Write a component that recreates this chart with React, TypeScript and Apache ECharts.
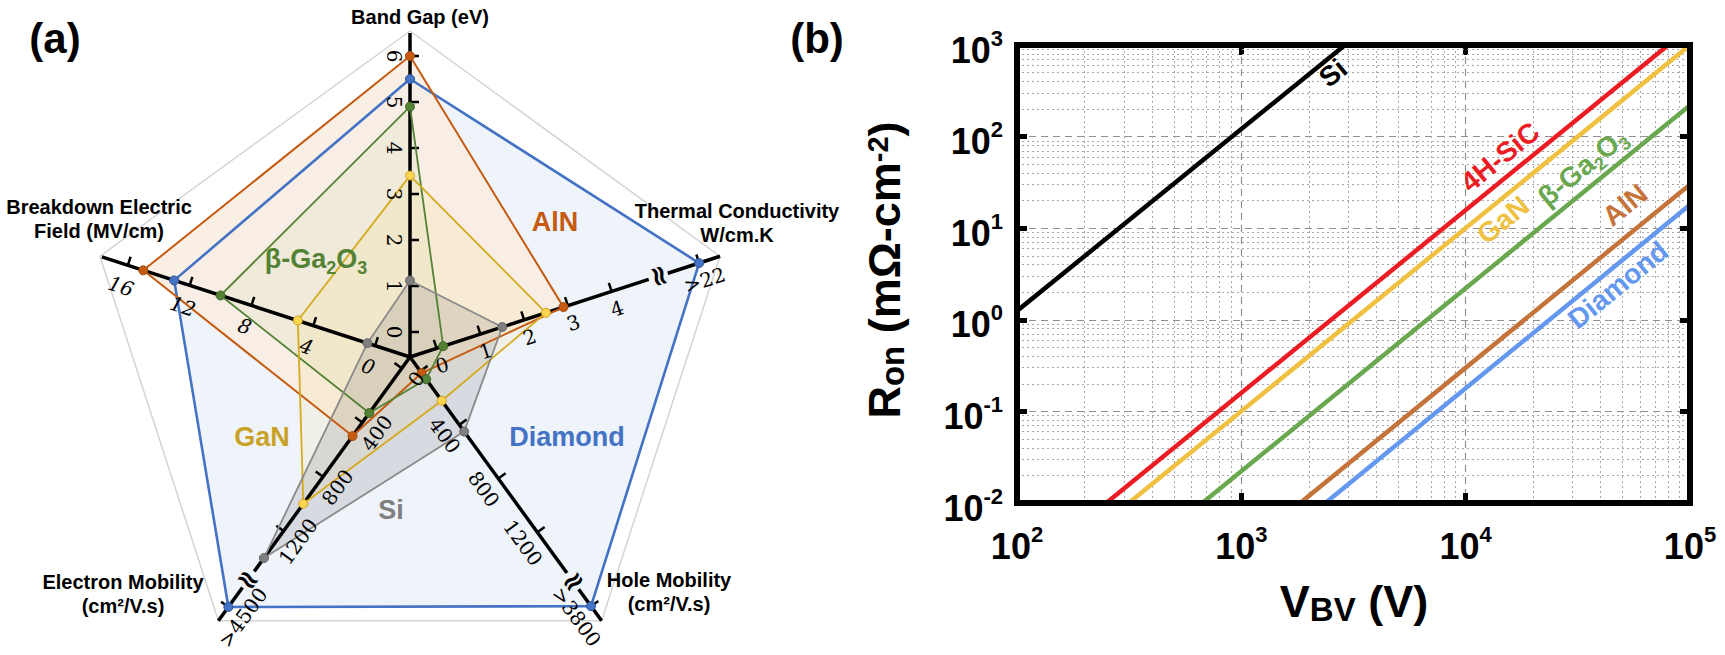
import React, { useEffect, useRef } from "react";
import * as echarts from "echarts";

// ---------------- (a) radar data ----------------
const radarIndicators = [
  "Band Gap (eV)",
  "Breakdown Electric Field (MV/cm)",
  "Electron Mobility (cm²/V.s)",
  "Hole Mobility (cm²/V.s)",
  "Thermal Conductivity W/cm.K",
];
const diamondValues = [5.5, 13, 4500, 3800, 22];
const alnValues = [6.0, 15, 500, 14, 2.9];
const ga2o3Values = [4.9, 10, 330, 60, 0.15];
const ganValues = [3.4, 5.0, 1000, 220, 2.5];
const siValues = [1.12, 0.5, 1400, 450, 1.5];

const bandGapTicks = [0, 1, 2, 3, 4, 5, 6];
const fieldTicks = [0, 4, 8, 12, 16];
const electronTicks = [0, 400, 800, 1200];
const holeTicks = [0, 400, 800, 1200];
const thermalTicks = [0, 1, 2, 3, 4];
const capValues: (number | null)[] = [null, null, 4500, 3800, 22];
const capTickLabels = ["", "", ">4500", ">3800", ">22"];

// ---------------- (b) data ----------------
const vbvRange = [100, 100000];
const ronRange = [0.01, 1000];
const siVbv = [100, 2900];
const siRon = [1.25, 1000];
const sicVbv = [250, 80000];
const sicRon = [0.01, 1000];
const ganVbv = [315, 100000];
const ganRon = [0.01, 1000];
const ga2o3Vbv = [670, 100000];
const ga2o3Ron = [0.01, 220];
const alnVbv = [1830, 100000];
const alnRon = [0.01, 30];
const diamondVbv = [2370, 100000];
const diamondRon = [0.01, 18];
const minorMantissas = [2, 3, 4, 5, 6, 7, 8, 9];
const vbvDecades = [100, 1000, 10000];
const ronDecades = [0.01, 0.1, 1, 10, 100];

// ---------------- layout / style ----------------
const SANS = '"Liberation Sans", Arial, Helvetica, sans-serif';
const SERIF = '"DejaVu Serif", "Liberation Serif", serif';
const DEG = Math.PI / 180;

const CX = 410;
const CY = 357;
const R = 326;
const AX_ANGLES = [90, 162, 234, 306, 18];
const ZERO_PX = [25, 36.7, 14, 17.5, 28];
const PX_PER_UNIT = [46, 16.25, 0.1675, 0.166, 46];
const CAP_PX = [0, 0, 309, 308, 304];
const BREAK_PX = [0, 0, 275, 277, 261];
const TICK_SIDE = [-1, -1, -1, 1, 1];
const LABEL_OFF = [16, 22, 18, 18, 18];

const U = AX_ANGLES.map((a) => [Math.cos(a * DEG), -Math.sin(a * DEG)]);
const N = U.map((u) => [u[1], -u[0]]);
const axMin = ZERO_PX.map((z, i) => -z / PX_PER_UNIT[i]);
const axMax = axMin.map((m, i) => m + R / PX_PER_UNIT[i]);
const toAxis = (i: number, v: number) => {
  const c = capValues[i];
  return c != null && v >= c ? axMin[i] + CAP_PX[i] / PX_PER_UNIT[i] : v;
};
const distOf = (i: number, v: number) =>
  ((toAxis(i, v) - axMin[i]) / (axMax[i] - axMin[i])) * R;

const GL = 1017;
const GT = 45;
const GW = 673;
const GH = 458;

const C_SI = "#000000";
const C_SIC = "#ec1c24";
const C_GAN = "#f0c040";
const C_GA2O3 = "#6aa84f";
const C_ALN = "#c4733a";
const C_DIA = "#6498ee";

function txt(x: number, y: number, text: string, font: string, fill: string, extra: any = {}) {
  return {
    type: "text",
    x,
    y,
    rotation: extra.rotation || 0,
    z: 20,
    silent: true,
    style: {
      text,
      font,
      fill,
      align: extra.align || "center",
      verticalAlign: extra.va || "middle",
      textAlign: extra.align || "center",
      textVerticalAlign: extra.va || "middle",
      lineHeight: extra.lineHeight,
      rich: extra.rich,
    },
  };
}

function radarGraphics() {
  const els: any[] = [];
  const tickLists = [bandGapTicks, fieldTicks, electronTicks, holeTicks, thermalTicks];
  for (let i = 0; i < 5; i++) {
    const u = U[i];
    const n = N[i];
    const side = TICK_SIDE[i];
    const P = (d: number, perp: number) => [CX + d * u[0] + perp * n[0], CY + d * u[1] + perp * n[1]];
    const segs = capValues[i] != null ? [[0, BREAK_PX[i] - 10], [BREAK_PX[i] + 10, R]] : [[0, R - 2]];
    segs.forEach(([a, b]) => {
      const p1 = P(a, 0);
      const p2 = P(b, 0);
      els.push({ type: "line", z: 3, silent: true, shape: { x1: p1[0], y1: p1[1], x2: p2[0], y2: p2[1] }, style: { stroke: "#000", lineWidth: 3.5 } });
    });
    const readRot = Math.atan2(-side * u[1], side * u[0]);
    const axisRot = Math.atan2(-u[1], u[0]);
    const font = i === 1 ? `italic 20px ${SERIF}` : `20px ${SERIF}`;
    const addTick = (d: number, label: string) => {
      const a = P(d, 0);
      const b = P(d, side * 9);
      els.push({ type: "line", z: 3, silent: true, shape: { x1: a[0], y1: a[1], x2: b[0], y2: b[1] }, style: { stroke: "#000", lineWidth: 2.5 } });
      if (label) {
        const lp = P(d, -side * LABEL_OFF[i]);
        els.push(txt(lp[0], lp[1], label, font, "#000", { rotation: readRot }));
      }
    };
    tickLists[i].forEach((v) => addTick(distOf(i, v), i === 3 && v === 0 ? "" : String(v)));
    const cap = capValues[i];
    if (cap != null) {
      addTick(distOf(i, cap), capTickLabels[i]);
      const bp = P(BREAK_PX[i], 0);
      els.push(txt(bp[0], bp[1], "≈", `bold 28px "DejaVu Sans", sans-serif`, "#000", { rotation: axisRot + Math.PI / 2 }));
    }
  }
  // axis names
  const nameFont = `bold 20px ${SANS}`;
  els.push(txt(420, 17, "Band Gap (eV)", nameFont, "#000"));
  els.push(txt(99, 219, "Breakdown Electric\nField (MV/cm)", nameFont, "#000", { lineHeight: 24 }));
  els.push(txt(737, 223, "Thermal Conductivity\nW/cm.K", nameFont, "#000", { lineHeight: 24 }));
  els.push(txt(123, 594, "Electron Mobility\n(cm²/V.s)", nameFont, "#000", { lineHeight: 24 }));
  els.push(txt(669, 592, "Hole Mobility\n(cm²/V.s)", nameFont, "#000", { lineHeight: 24 }));
  // material labels
  const mFont = `bold 27px ${SANS}`;
  els.push(txt(555, 222, "AlN", mFont, "#c55a11"));
  els.push(
    txt(316, 263, "{m|β-Ga}{s|2}{m|O}{s|3}", mFont, "#548235", {
      rich: {
        m: { fontSize: 27, fontWeight: "bold", fontFamily: SANS, lineHeight: 27, padding: [0, 0, 8, 0] },
        s: { fontSize: 18, fontWeight: "bold", fontFamily: SANS, lineHeight: 18, verticalAlign: "bottom" },
      },
    })
  );
  els.push(txt(262, 437, "GaN", mFont, "#c9a227"));
  els.push(txt(391, 510, "Si", mFont, "#7f7f7f"));
  els.push(txt(567, 437, "Diamond", mFont, "#4472c4"));
  els.push(txt(55, 38, "(a)", `bold 42px ${SANS}`, "#000"));
  return els;
}

function panelBGraphics() {
  const els: any[] = [];
  els.push({ type: "rect", z: 15, silent: true, shape: { x: GL, y: GT, width: GW, height: GH }, style: { fill: null, stroke: "#000", lineWidth: 6 } });
  els.push(txt(817, 38, "(b)", `bold 42px ${SANS}`, "#000"));
  const titleRich = {
    b: { fontSize: 45, fontWeight: "bold", fontFamily: SANS, lineHeight: 45, padding: [10, 0, 14, 0] },
    s: { fontSize: 33, fontWeight: "bold", fontFamily: SANS, lineHeight: 33, verticalAlign: "bottom" },
    p: { fontSize: 29, fontWeight: "bold", fontFamily: SANS, lineHeight: 29, verticalAlign: "top" },
  };
  els.push(txt(886, 270, "{b|R}{s|on}{b| (mΩ-cm}{p|-2}{b|)}", `bold 45px ${SANS}`, "#000", { rotation: Math.PI / 2, rich: titleRich }));
  els.push(txt(1354, 603, "{b|V}{s|BV}{b| (V)}", `bold 45px ${SANS}`, "#000", { rich: titleRich }));
  const rot = 39.3 * DEG;
  const lf = `bold 28px ${SANS}`;
  els.push(txt(1333, 73, "Si", lf, C_SI, { rotation: rot }));
  els.push(txt(1500, 157, "4H-SiC", lf, C_SIC, { rotation: rot }));
  els.push(txt(1503, 220, "GaN", lf, C_GAN, { rotation: rot }));
  els.push(
    txt(1585, 170, "{m|β-Ga}{s|2}{m|O}{s|3}", lf, C_GA2O3, {
      rotation: rot,
      rich: {
        m: { fontSize: 28, fontWeight: "bold", fontFamily: SANS, lineHeight: 28, padding: [0, 0, 8, 0] },
        s: { fontSize: 18, fontWeight: "bold", fontFamily: SANS, lineHeight: 18, verticalAlign: "bottom" },
      },
    })
  );
  els.push(txt(1625, 205, "AlN", lf, C_ALN, { rotation: rot }));
  els.push(txt(1618, 285, "Diamond", lf, C_DIA, { rotation: rot }));
  return els;
}

const radarMats = [
  { name: "Diamond", values: diamondValues, line: "#4472c4", point: "#4472c4", border: "#2f5597", fill: "rgba(68,114,196,0.085)", width: 2.6 },
  { name: "AlN", values: alnValues, line: "#c55a11", point: "#c55a11", border: "#a04a0e", fill: "rgba(249,237,225,0.88)", width: 2 },
  { name: "β-Ga2O3", values: ga2o3Values, line: "#548235", point: "#548235", border: "#3f6328", fill: "rgba(112,173,71,0.06)", width: 1.8 },
  { name: "GaN", values: ganValues, line: "#d4aa1e", point: "#ffd54f", border: "#c9a227", fill: "rgba(255,192,0,0.07)", width: 1.8 },
  { name: "Si", values: siValues, line: "#8a8a8a", point: "#7f7f7f", border: "#666", fill: "rgba(120,120,120,0.2)", width: 1.8 },
];

const labelRich = {
  b: { fontSize: 36, fontWeight: "bold", fontFamily: SANS, color: "#000", lineHeight: 36, padding: [10, 0, 0, 0] },
  s: { fontSize: 22, fontWeight: "bold", fontFamily: SANS, color: "#000", lineHeight: 22, verticalAlign: "top" },
};
const expLabel = (v: number) => `{b|10}{s|${Math.round(Math.log10(v))}}`;

function buildOption() {
  const mapped = (vals: number[]) => vals.map((v, i) => toAxis(i, v));
  const radarSeries: any[] = [];
  radarMats.forEach((m) => {
    radarSeries.push({
      type: "radar",
      radarIndex: 0,
      z: 1,
      silent: true,
      symbol: "none",
      lineStyle: { width: 0, opacity: 0 },
      areaStyle: { color: m.fill, opacity: 1 },
      data: [{ value: mapped(m.values), name: m.name }],
    });
  });
  radarMats.forEach((m) => {
    radarSeries.push({
      type: "radar",
      radarIndex: 0,
      z: 5,
      silent: true,
      symbol: "circle",
      symbolSize: 9,
      lineStyle: { color: m.line, width: m.width },
      itemStyle: { color: m.point, borderColor: m.border, borderWidth: 1 },
      data: [{ value: mapped(m.values), name: m.name }],
    });
  });

  const minorX: number[] = [];
  vbvDecades.forEach((d) => minorMantissas.forEach((k) => minorX.push(d * k)));
  const minorY: number[] = [];
  ronDecades.forEach((d) => minorMantissas.forEach((k) => minorY.push(+(d * k).toPrecision(3))));

  const lineSeries = [
    { name: "Si", v: siVbv, r: siRon, c: C_SI },
    { name: "4H-SiC", v: sicVbv, r: sicRon, c: C_SIC },
    { name: "GaN", v: ganVbv, r: ganRon, c: C_GAN },
    { name: "β-Ga2O3", v: ga2o3Vbv, r: ga2o3Ron, c: C_GA2O3 },
    { name: "AlN", v: alnVbv, r: alnRon, c: C_ALN },
    { name: "Diamond", v: diamondVbv, r: diamondRon, c: C_DIA },
  ].map((s) => ({
    type: "line",
    name: s.name,
    xAxisIndex: 0,
    yAxisIndex: 0,
    symbol: "none",
    showSymbol: false,
    clip: true,
    z: 5,
    silent: true,
    lineStyle: { color: s.c, width: 4.5 },
    data: s.v.map((x, i) => [x, s.r[i]]),
  }));

  const axisCommon = {
    type: "log",
    logBase: 10,
    gridIndex: 0,
    axisLine: { show: false },
    axisTick: { show: true, inside: true, length: 10, lineStyle: { color: "#000", width: 5 } },
    minorTick: { show: false },
  };

  return {
    animation: false,
    backgroundColor: "#ffffff",
    radar: {
      center: [CX, CY],
      radius: R,
      startAngle: 90,
      splitNumber: 1,
      shape: "polygon",
      silent: true,
      indicator: radarIndicators.map((name, i) => ({ name, min: axMin[i], max: axMax[i] })),
      axisName: { show: false },
      axisLine: { show: false },
      axisTick: { show: false },
      axisLabel: { show: false },
      splitLine: { show: true, lineStyle: { color: "#d4d4d4", width: 1.5 } },
      splitArea: { show: false },
    },
    grid: { left: GL, top: GT, width: GW, height: GH, show: false },
    xAxis: [
      {
        ...axisCommon,
        position: "bottom",
        min: vbvRange[0],
        max: vbvRange[1],
        axisLabel: { margin: 20, formatter: expLabel, rich: labelRich },
        splitLine: { show: true, lineStyle: { type: [7, 5], color: "#909090", width: 1.2 } },
      },
      {
        ...axisCommon,
        position: "top",
        min: vbvRange[0],
        max: vbvRange[1],
        axisLabel: { show: false },
        splitLine: { show: false },
      },
    ],
    yAxis: [
      {
        ...axisCommon,
        position: "left",
        min: ronRange[0],
        max: ronRange[1],
        axisLabel: { margin: 14, formatter: expLabel, rich: labelRich },
        splitLine: { show: true, lineStyle: { type: [7, 5], color: "#909090", width: 1.2 } },
      },
      {
        ...axisCommon,
        position: "right",
        min: ronRange[0],
        max: ronRange[1],
        axisLabel: { show: false },
        splitLine: { show: false },
      },
    ],
    series: [
      ...radarSeries,
      {
        type: "line",
        name: "minor-grid",
        xAxisIndex: 0,
        yAxisIndex: 0,
        data: [],
        silent: true,
        z: 1,
        markLine: {
          silent: true,
          symbol: ["none", "none"],
          label: { show: false },
          lineStyle: { type: [2, 3], color: "#a8a8a8", width: 1 },
          data: [...minorX.map((v) => ({ xAxis: v })), ...minorY.map((v) => ({ yAxis: v }))],
        },
      },
      ...lineSeries,
    ],
    graphic: { elements: [...radarGraphics(), ...panelBGraphics()] },
  };
}

export default function App() {
  const ref = useRef<HTMLDivElement>(null);
  useEffect(() => {
    if (!ref.current) return;
    const chart = echarts.init(ref.current, undefined, { renderer: "svg" });
    chart.setOption(buildOption() as any);
    return () => chart.dispose();
  }, []);
  return (
    <div
      ref={ref}
      style={{ position: "fixed", left: 0, top: 0, width: 1725, height: 655, background: "#fff" }}
    />
  );
}
